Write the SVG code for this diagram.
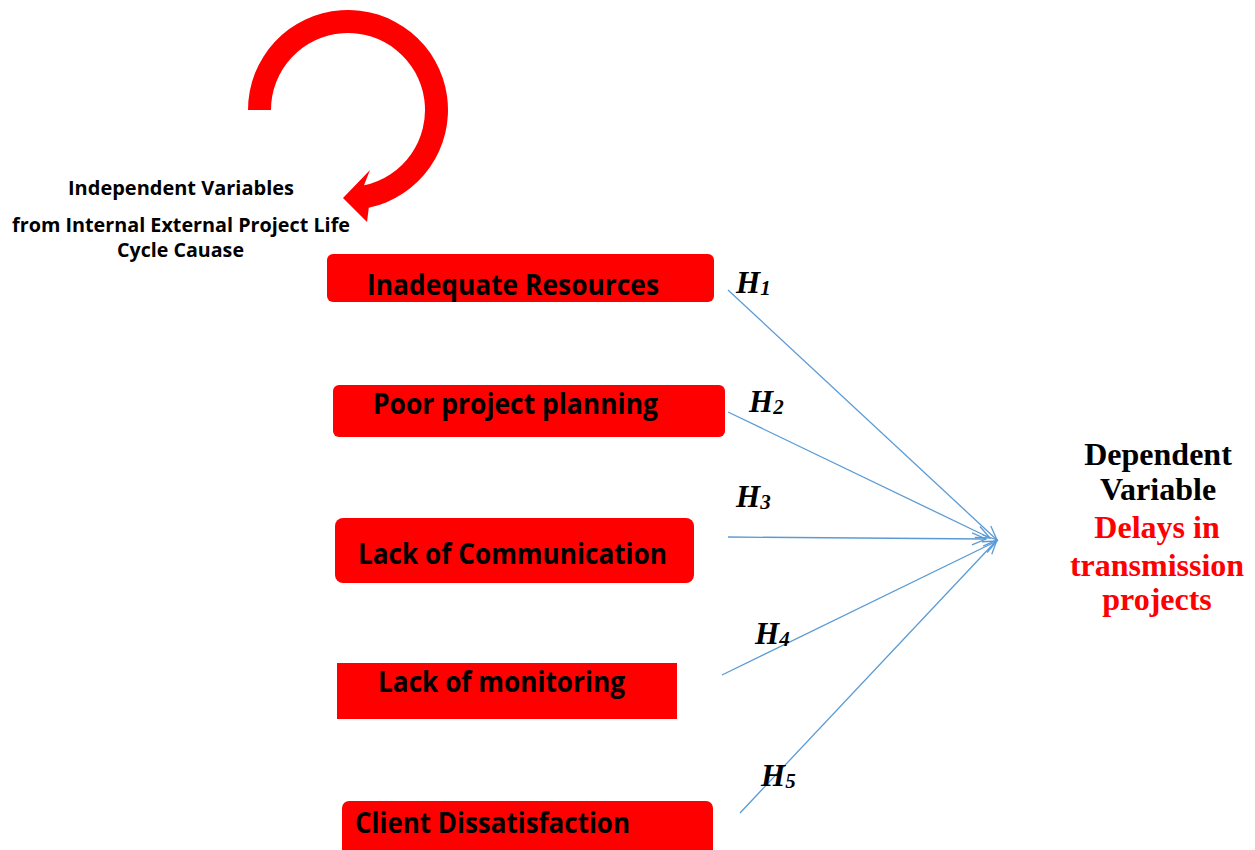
<svg xmlns="http://www.w3.org/2000/svg" width="1255" height="850" viewBox="0 0 1255 850">
<defs>
<style>
.box{fill:#FF0000;}
.bt{font-family:"Open Sans","Liberation Sans",sans-serif;font-weight:bold;font-size:28.5px;fill:#000;}
.it{font-family:"Open Sans","Liberation Sans",sans-serif;font-weight:bold;font-size:19px;fill:#000;}
.h{font-family:"Liberation Serif","Times New Roman",serif;font-weight:bold;font-style:italic;font-size:31px;fill:#000;}
.hs{font-size:21px;}
.dv{font-family:"Liberation Serif","Times New Roman",serif;font-weight:bold;font-size:32px;text-anchor:middle;}
.conn{stroke:#5B9BD5;stroke-width:1.3;fill:none;marker-end:url(#arr);}
</style>
<marker id="arr" markerUnits="userSpaceOnUse" markerWidth="20" markerHeight="20" refX="15" refY="7" orient="auto">
<path d="M1,1 L15,7 L1,13" fill="none" stroke="#5B9BD5" stroke-width="1.3"/>
</marker>
</defs>
<rect width="1255" height="850" fill="#fff"/>

<g id="cycle-arrow">
<path d="M248,110 A100,100 0 1 1 368.8,207.8 L367,222 L343,198 L370,170 L364,185.3 A77,77 0 1 0 271,110 Z" fill="#FF0000"/>
</g>

<g id="independent-label">
<text class="it" x="68" y="195" textLength="226" lengthAdjust="spacingAndGlyphs">Independent Variables</text>
<text class="it" x="12" y="232" textLength="338" lengthAdjust="spacingAndGlyphs">from Internal External Project Life</text>
<text class="it" x="117" y="257" textLength="127" lengthAdjust="spacingAndGlyphs">Cycle Cauase</text>
</g>

<g id="connectors">
<line class="conn" x1="728" y1="290" x2="997" y2="540"/>
<line class="conn" x1="728" y1="412" x2="990" y2="538"/>
<line class="conn" x1="728" y1="537" x2="986" y2="539"/>
<line class="conn" x1="722" y1="675" x2="997" y2="541"/>
<line class="conn" x1="740" y1="813" x2="997" y2="540"/>
</g>

<g id="node-inadequate-resources">
<rect class="box" x="327" y="254" width="387" height="48" rx="6"/>
<text class="bt" x="367" y="295" textLength="292" lengthAdjust="spacingAndGlyphs">Inadequate Resources</text>
</g>
<g id="node-poor-planning">
<rect class="box" x="333" y="385" width="392" height="52" rx="6"/>
<text class="bt" x="373" y="414" textLength="285" lengthAdjust="spacingAndGlyphs">Poor project planning</text>
</g>
<g id="node-lack-communication">
<rect class="box" x="335" y="518" width="359" height="65" rx="8"/>
<text class="bt" x="358" y="564" textLength="309" lengthAdjust="spacingAndGlyphs">Lack of Communication</text>
</g>
<g id="node-lack-monitoring">
<rect class="box" x="337" y="663" width="340" height="56"/>
<text class="bt" x="378" y="692" textLength="247" lengthAdjust="spacingAndGlyphs">Lack of monitoring</text>
</g>
<g id="node-client-dissatisfaction">
<rect class="box" x="342" y="801" width="371" height="70" rx="7"/>
<text class="bt" x="355" y="833" textLength="275" lengthAdjust="spacingAndGlyphs">Client Dissatisfaction</text>
</g>

<g id="hypothesis-labels">
<text class="h" x="736" y="293">H<tspan class="hs" dy="2">1</tspan></text>
<text class="h" x="749" y="412">H<tspan class="hs" dy="2">2</tspan></text>
<text class="h" x="736" y="507">H<tspan class="hs" dy="2">3</tspan></text>
<text class="h" x="755" y="644">H<tspan class="hs" dy="2">4</tspan></text>
<text class="h" x="761" y="786">H<tspan class="hs" dy="2">5</tspan></text>
</g>

<g id="node-dependent-variable">
<text class="dv" x="1158" y="465" fill="#000">Dependent</text>
<text class="dv" x="1158" y="500" fill="#000">Variable</text>
<text class="dv" x="1157" y="538" fill="#FF0000">Delays in</text>
<text class="dv" x="1157" y="576" fill="#FF0000">transmission</text>
<text class="dv" x="1157" y="610" fill="#FF0000">projects</text>
</g>
</svg>
